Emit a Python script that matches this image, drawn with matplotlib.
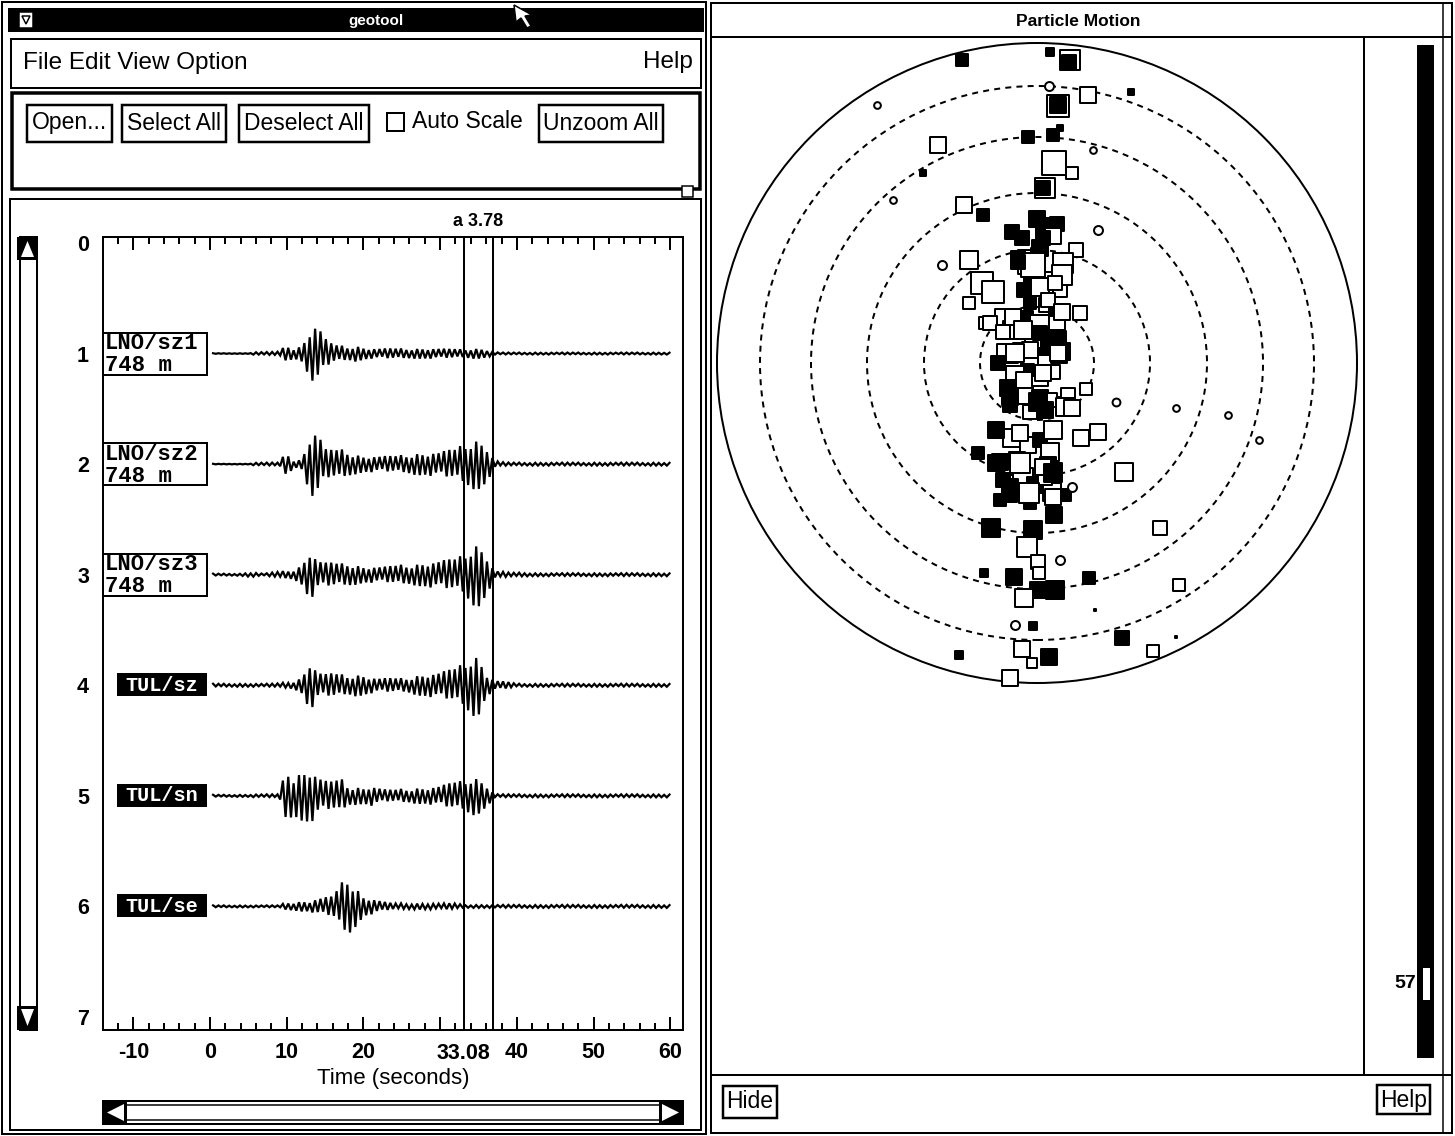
import numpy as np
import matplotlib
matplotlib.use("Agg")
import matplotlib.pyplot as plt
from matplotlib.patches import Rectangle, Polygon, Circle
from matplotlib.transforms import blended_transform_factory

# ---------------- data ----------------
trace_names = ["LNO/sz1", "LNO/sz2", "LNO/sz3", "TUL/sz", "TUL/sn", "TUL/se"]
trace_dist = ["748 m", "748 m", "748 m", None, None, None]

env_time = list(range(61))  # seconds
env_sz1 = [0.3, 0.3, 0.3, 0.3, 0.3, 0.3, 1.5, 1.5, 1.5, 2, 9, 5, 8, 25, 31, 15, 9, 8, 7, 8, 6,
           5, 5, 5, 5, 5, 5, 5, 5, 5, 5, 4.5, 4.5, 4, 5, 5, 4, 1.5,
           1, 1, 1, 1, 1, 1, 1, 1, 1, 1, 1, 1, 1, 1, 1, 1, 1, 1, 1, 1, 1, 1, 1]
env_sz2 = [0.3, 0.3, 0.3, 0.3, 0.3, 0.3, 1.5, 1.5, 1.5, 1.5, 13, 3, 5, 30, 35, 15, 14, 15, 13, 10,
           8, 8, 8, 8, 8, 9, 10, 11, 11, 12, 12, 14, 15, 20, 25, 25, 20, 4, 2,
           1.5, 1.5, 1.5, 1.5, 1.5, 1.5, 1.5, 1.5, 1.5, 1.5, 1.5, 1.5, 1.5, 1.5, 1.5, 1.5, 1.5,
           1.5, 1.5, 1.5, 1.5, 1.5]
env_sz3 = [1, 1, 1, 1, 1, 2, 2, 1, 2, 3, 4, 5, 10, 26, 15, 12, 12, 11, 12, 10, 8, 8, 8, 8, 9,
           10, 10, 11, 12, 13, 14, 15, 16, 20, 30, 32, 22, 4, 3, 2, 2, 2,
           1.5, 1.5, 1.5, 1.5, 1.5, 1.5, 1.5, 1.5, 1.5, 1.5, 1.5, 1.5, 1.5, 1.5, 1.5, 1.5, 1.5, 1.5, 1.5]
env_tsz = [1.5, 1.5, 1.5, 1.5, 1.5, 1.5, 1.5, 1.5, 1.5, 2, 3, 4, 8, 26, 14, 11, 12, 11, 10, 11,
           10, 8, 7, 7, 7, 7, 8, 10, 11, 12, 13, 15, 17, 22, 31, 30, 12, 5, 4, 3,
           1.5, 1.5, 1.5, 1.5, 1.5, 1.5, 1.5, 1.5, 1.5, 1.5, 1.5, 1.5, 1.5, 1.5, 1.5, 1.5, 1.5,
           1.5, 1.5, 1.5, 1.5]
env_tsn = [1, 1, 1, 1, 1, 1, 1.5, 1.5, 1.5, 1.5, 29, 20, 25, 28, 20, 15, 14, 18, 10, 9, 8, 10,
           8, 6, 6, 7, 7, 8, 8, 9, 10, 12, 14, 15, 20, 18, 12, 2,
           1.5, 1.5, 1.5, 1.5, 1.5, 1.5, 1.5, 1.5, 1.5, 1.5, 1.5, 1.5, 1.5, 1.5, 1.5, 1.5, 1.5,
           1.5, 1.5, 1.5, 1.5, 1.5, 1.5]
env_tse = [1, 1, 1, 1, 1, 1, 1, 1, 1, 1, 4, 4, 5, 5, 8, 9, 10, 22, 32, 20, 10, 8, 6, 4,
           3, 3, 3, 3, 3, 3, 3, 3, 3,
           1.5, 1.5, 1.5, 1.5, 1.5, 1.5, 1.5, 1.5, 1.5, 1.5, 1.5, 1.5, 1.5, 1.5, 1.5, 1.5, 1.5,
           1.5, 1.5, 1.5, 1.5, 1.5, 1.5, 1.5, 1.5, 1.5, 1.5, 1.5]
envelopes = [env_sz1, env_sz2, env_sz3, env_tsz, env_tsn, env_tse]

x_ticks = [-10, 0, 10, 20, 30, 40, 50, 60]
x_tick_labels = ["-10", "0", "10", "20", "", "40", "50", "60"]
y_ticks = [0, 1, 2, 3, 4, 5, 6, 7]
cursor_time = 33.08
cursor_width = 3.78

# particle motion: east, north, vertical (sign -> filled/open, magnitude -> size)
pm_east = [-75, 13, 33, 32, 12, 51, 94, -160, 21, 21, 23, -9, 16, -99, 56, 17, 35, -114, 8, 6,
           -144, -73, -54, -95, 61, 39, -68, -55, -44, -68, 43,
           0, 6, -25, 20, 16, -15, 6, 3, -7, 26, -19, 1, -13, 3, 23, -7, 13, 9, -34, -52, -25,
           -11, 3, 20, 18, -4, 13, 26, -17, -32, -7, 8, 22, 3, 16, -9, -22, -29, -13, 3, 13, 28,
           -27, -7, 8, 31, -42, -25, -9, -20, 3, 13, -37, -17, 11, -34, -14, -2, 15, 28, -27, 8,
           -7, 18,
           -4, 25, -19, -12, 3, 18, 11, -7, 25, -24, -47, -34, -14, 3, 20, 25, -7, -25, -39, -22,
           21, 6, -13, -27, 1, 28, 35, -41, -17, 16, -41, -17, 6, 16, -27, -8, 16, -37, 28,
           49, 79, 139, 191, 222, 61, 44, -59, 87, 35, 17, 123, -46, -4, -10, 1, 23, -53, -23, 2,
           52, 142, 1, 18, -13, -22, -4, 85, -15, 116, -78, 12, -5, -27, 58, 139]
pm_north = [303, 311, 303, 301, 277, 268, 271, 258, 257, 258, 235, 226, 228, 218, 213, 200, 190,
            190, 175, 175, 163, 158, 148, 98, 133, 113, 103, 80, 71, 60, 50,
            144, 138, 131, 139, 127, 125, 125, 115, 101, 100, 105, 108, 73, 65, 73, 86, 83, 58,
            46, 40, 33, 45, 38, 41, 53, 23, 18, 13, 13, 11, 6, 1, 8, -15, -9, -7, -12, -25, -32,
            -35, -37, -42, -42, -49, -47, -32, -67, -75, -82, -97, -77, -89, -99, -102, -102,
            -117, -115, -122, -129, -132, -132, -115, -140, -107,
            98, 88, 101, 73, 76, 80, 63, 60, 51, 46, 40, 31, 33, 30, 23, 11, 13, 6, 0, 10,
            10, -10, -17, -34, -39, -44, -45, -67, -70, -67, -100, -100, -104, -110, -124, -130,
            -134, -137, -132,
            -26, -39, -45, -52, -77, -69, -75, -90, -109, -124, -152, -165, -165, -167, -184, -199,
            -197, -210, -214, -210, -215, -222, -227, -227, -235, -262, -263, -275, -286, -288,
            -292, -294, -300, -315, -247, -274]
pm_vert = [10, 7, -18, 12, -8, -15, 6, -6, -20, 15, 6, 10, 10, -14, -6, -22, -10, 6, -18, 12,
           -6, -15, 10, -8, -8, -12, -16, -20, -20, -10, -12,
           14, 12, 12, 12, -14, 12, 12, 14, -22, -18, 12, 12, 12, -16, -12, 10, -14, -12, -14,
           -10, -16, 12, -18, -14, 10, -14, 16, -12, 12, -14, -16, -12, 14, -14, -12, 10, -16,
           14, -16, 14, -12, -14, 12, -12, 14, -12, 12, -16, -14, 14, 12, -16, 14, -18, 14, 12,
           -18, 14, -16, 10, 12, -12, 10, -12,
           -22, -18, 12, 12, -16, -12, -12, 10, -14, -14, -12, -12, -16, 12, 16, 14, -14, -10, 12,
           -16, -14, -14, -14, 14, 16, -16, -14, 14, -14, -16, 14, -18, -14, 16, 14, -18, -14, 10,
           8,
           -10, -7, -6, -6, -6, -14, -14, 10, -16, -8, 14, -12, 16, 16, -18, -12, -8, 8, 14, -10,
           10, -10, 14, 16, -16, -8, 8, 12, -14, -10, 8, 14, -9, -14, 2, 2]
ring_radii = [57, 113, 170, 226, 277]
outer_radius = 320
slider_value = "57"

# ---------------- figure / helpers ----------------
W, H = 1455, 1136
fig = plt.figure(figsize=(W / 100, H / 100), dpi=100)
fig.patch.set_facecolor("white")
ax0 = fig.add_axes([0, 0, 1, 1])
ax0.set_xlim(0, W)
ax0.set_ylim(H, 0)
ax0.axis("off")

PX = 0.72  # points per pixel
SANS = ["Liberation Sans", "DejaVu Sans"]
MONO = ["Liberation Mono", "DejaVu Sans Mono"]


def frac(x0, y0, x1, y1):
    return [x0 / W, 1 - y1 / H, (x1 - x0) / W, (y1 - y0) / H]


def rect(x0, y0, x1, y1, lw=2, fc="none", ec="black", z=1, ax=None):
    (ax or ax0).add_patch(Rectangle((x0, y0), x1 - x0, y1 - y0, lw=lw * PX, fc=fc, ec=ec,
                                    zorder=z))


def txt(x, y, s, size, weight="normal", color="black", ha="left", va="center", family=SANS,
        ax=None):
    (ax or ax0).text(x, y, s, fontsize=size, fontweight=weight, color=color, ha=ha, va=va,
                     family=family, zorder=5)


def hline(x0, x1, y, lw=2):
    ax0.plot([x0, x1], [y, y], color="black", lw=lw * PX, solid_capstyle="butt", zorder=2)


def vline(x, y0, y1, lw=2):
    ax0.plot([x, x], [y0, y1], color="black", lw=lw * PX, solid_capstyle="butt", zorder=2)


# ---------------- left window (geotool) ----------------
rect(2, 2, 706, 1134, lw=2)
rect(8, 8, 704, 32, lw=0, fc="black")
rect(19, 12, 33, 28, lw=1.5, fc="white")
ax0.add_patch(Polygon([[22, 16], [30, 16], [26, 24]], closed=True, fc="white", ec="black",
                      lw=1.5 * PX, zorder=3))
txt(376, 21, "geotool", 11, weight="bold", color="white", ha="center")
# mouse pointer
ax0.add_patch(Polygon([[514, 5], [516, 22], [521, 18], [527, 28], [531, 26], [525, 16],
                       [532, 15]], closed=True, fc="white", ec="black", lw=1.5 * PX, zorder=6))

# menu bar
rect(11, 39, 701, 88, lw=2)
txt(23, 63, "File Edit View Option", 17.5)
txt(693, 62, "Help", 17.5, ha="right")

# button panel
rect(12, 93, 700, 189, lw=3.5)
for (bx0, bx1, label) in [(27, 112, "Open..."), (122, 226, "Select All"),
                          (239, 369, "Deselect All"), (539, 663, "Unzoom All")]:
    rect(bx0, 105, bx1, 142, lw=2.5, fc="white")
    txt((bx0 + bx1) / 2, 123, label, 16.5, ha="center")
rect(387, 113, 404, 131, lw=2)
txt(412, 122, "Auto Scale", 16.5)
rect(682, 186, 693, 197, lw=1.5, fc="white", z=3)

# plot panel frame
rect(10, 199, 701, 1130, lw=2)

# left vertical scrollbar
rect(20, 237, 37, 1030, lw=2, fc="white")
rect(17, 237, 38, 260, lw=0, fc="black")
rect(17, 1006, 38, 1030, lw=0, fc="black")
ax0.add_patch(Polygon([[21, 257], [34, 257], [27.5, 241]], closed=True, fc="white", ec="none", zorder=3))
ax0.add_patch(Polygon([[21, 1009], [34, 1009], [27.5, 1026]], closed=True, fc="white", ec="none", zorder=3))

# bottom horizontal scrollbar
rect(103, 1101, 683, 1124, lw=2, fc="white")
rect(103, 1101, 127, 1124, lw=0, fc="black")
rect(659, 1101, 683, 1124, lw=0, fc="black")
ax0.add_patch(Polygon([[124, 1104], [124, 1121], [107, 1112.5]], closed=True, fc="white", ec="none", zorder=3))
ax0.add_patch(Polygon([[662, 1104], [662, 1121], [679, 1112.5]], closed=True, fc="white", ec="none", zorder=3))
hline(127, 659, 1105, lw=1.5)
hline(127, 659, 1120, lw=1.5)

# ---------------- waveform axes ----------------
axw = fig.add_axes(frac(103, 237, 683, 1030))
axw.set_xlim(-13.95, 61.66)
axw.set_ylim(7.118, -0.054)
for sp in axw.spines.values():
    sp.set_linewidth(2 * PX)
axw.set_xticks(x_ticks)
axw.set_xticklabels(x_tick_labels)
axw.set_xticks(np.arange(-12, 61, 2), minor=True)
axw.tick_params(axis="x", which="major", direction="in", length=13 * PX, width=2 * PX,
                top=True, bottom=True, labelsize=15.5, pad=9)
axw.tick_params(axis="x", which="minor", direction="in", length=7 * PX, width=2 * PX,
                top=True, bottom=True)
axw.set_yticks(y_ticks)
axw.tick_params(axis="y", length=0, labelsize=15.5, pad=10)
for lab in axw.get_xticklabels() + axw.get_yticklabels():
    lab.set_fontweight("bold")
    lab.set_family(SANS)
axw.set_xlabel("Time (seconds)", fontsize=16, family=SANS, labelpad=3)

# cursor lines
axw.axvline(cursor_time, color="black", lw=2 * PX)
axw.axvline(cursor_time + cursor_width, color="black", lw=2 * PX)
tr = blended_transform_factory(axw.transData, axw.transAxes)
axw.text(cursor_time, -0.0158, f"{cursor_time:.2f}", transform=tr, ha="center", va="top",
         fontsize=15.5, fontweight="bold", family=SANS)
axw.text(cursor_time + cursor_width / 2, 1.009, f"a {cursor_width:.2f}", transform=tr,
         ha="center", va="bottom", fontsize=13, fontweight="bold", family=SANS)

# traces
half_period = 0.35
t_s = np.arange(0.4, 60.0, half_period)
idx = np.arange(len(t_s))
sign = np.where(idx % 2 == 0, 1.0, -1.0)
shape = np.array([1.0, 0.8, 0.95, 0.65, 1.0, 0.85, 0.7, 0.9, 0.6, 1.0, 0.9])[idx % 11]
gain = 1 / 110.57
for k, env in enumerate(envelopes):
    a = np.interp(t_s, env_time, env) * sign * shape
    axw.plot(t_s, (k + 1) - a * gain, color="black", lw=1.6, solid_joinstyle="miter")

# ---------------- right window (Particle Motion) ----------------
rect(711, 3, 1452, 1133, lw=2)
txt(1078, 21, "Particle Motion", 12.5, weight="bold", ha="center")
hline(711, 1452, 37, lw=2)
vline(1364, 37, 1075, lw=2)
hline(711, 1452, 1075, lw=2)
vline(1443, 3, 1133, lw=1.5)
rect(1417, 45, 1434, 1058, lw=0, fc="black")
rect(1423, 968, 1430, 1000, lw=0, fc="white", z=3)
hline(1421, 1432, 983, lw=2)
txt(1416, 984, slider_value, 14, weight="bold", ha="right")
rect(723, 1086, 777, 1118, lw=2.5, fc="white")
txt(750, 1102, "Hide", 16.5, ha="center")
rect(1377, 1085, 1430, 1114, lw=2.5, fc="white")
txt(1403.5, 1100, "Help", 16.5, ha="center")

axp = fig.add_axes(frac(712, 38, 1363, 1074))
axp.set_xlim(712 - 1037, 1363 - 1037)
axp.set_ylim(363 - 1074, 363 - 38)
axp.axis("off")
axp.add_patch(Circle((0, 0), outer_radius, fill=False, lw=2 * PX, ec="black"))
for r in ring_radii:
    axp.add_patch(Circle((0, 0), r, fill=False, lw=2 * PX, ec="black", ls=(0, (3, 2.6))))

marker_scale = 1.12
for e, n, v in zip(pm_east, pm_north, pm_vert):
    side = abs(v) * PX * marker_scale
    filled = v > 0
    marker = "o" if (not filled and abs(v) <= 8) else "s"
    axp.scatter([e], [n], s=side ** 2, marker=marker,
                facecolor="black" if filled else "white", edgecolor="black",
                linewidths=2.0 * PX, zorder=3)

# ---------------- overlay: trace labels ----------------
axo = fig.add_axes([0, 0, 1, 1], zorder=10)
axo.set_xlim(0, W)
axo.set_ylim(H, 0)
axo.axis("off")
axo.patch.set_alpha(0)
for k, name in enumerate(trace_names):
    yc = 243 + (k + 1) * 110.57
    if trace_dist[k] is not None:
        rect(103, yc - 21, 207, yc + 21, lw=2, fc="white", z=4, ax=axo)
        axo.text(105, yc - 10, name, fontsize=16, family=MONO, fontweight="bold",
                 ha="left", va="center", zorder=5)
        axo.text(105, yc + 12, trace_dist[k], fontsize=16, family=MONO, fontweight="bold",
                 ha="left", va="center", zorder=5)
    else:
        rect(117, yc - 12, 207, yc + 11, lw=0, fc="black", z=4, ax=axo)
        axo.text(162, yc, name, fontsize=14.5, family=MONO, fontweight="bold", color="white",
                 ha="center", va="center", zorder=5)

fig.savefig("out.png", dpi=100, facecolor="white")
